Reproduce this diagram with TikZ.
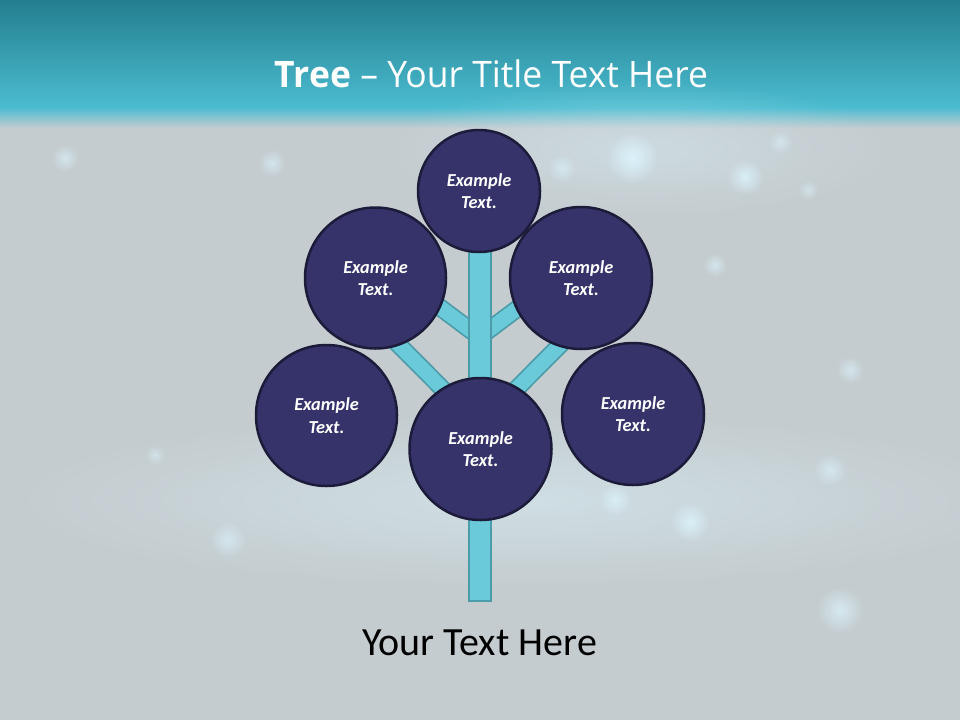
\documentclass[tikz,border=0pt]{standalone}
\usepackage{fontspec}
\usepackage{graphicx}
\usetikzlibrary{fadings}
\setmainfont{Carlito}
\newfontfamily\titlefont{Open Sans}
\definecolor{bggrey}{HTML}{C4CCCF}
\definecolor{topdark}{HTML}{237F8F}
\definecolor{toplight}{HTML}{4CBCD0}
\definecolor{circfill}{HTML}{35336A}
\definecolor{circline}{HTML}{1C1B3A}
\definecolor{trunkfill}{HTML}{6ACAD9}
\definecolor{trunkline}{HTML}{4B9CA8}
\definecolor{glow}{HTML}{DDF6FF}
\tikzfading[name=glowfade, inner color=transparent!0, outer color=transparent!100]
\tikzset{
  bubble/.style={circle, fill=circfill, draw=circline, line width=2.5pt, inner sep=0pt,
    text=white, align=center, font=\bfseries\itshape\fontsize{18.3}{22.7}\selectfont},
  branchout/.style={draw=trunkline, line width=18pt},
  branchin/.style={draw=trunkfill, line width=14.5pt},
  sparkle/.style={fill=glow, path fading=glowfade}
}
\begin{document}
\begin{tikzpicture}[x=1pt, y=-1pt]
\useasboundingbox (0,0) rectangle (960,720);
% background
\fill[bggrey] (0,0) rectangle (960,720);
\shade[top color=topdark, bottom color=toplight] (0,0) rectangle (960,108);
\shade[top color=toplight, bottom color=bggrey] (0,107.5) rectangle (960,128);
% soft glows
\fill[sparkle, fill opacity=0.45] (520,500) ellipse (520 and 90);
\fill[sparkle, fill opacity=0.35] (640,150) ellipse (260 and 70);
\foreach \px/\py/\r/\o in {632/158/26/0.9, 745/177/18/0.8, 272/163/14/0.6, 65/158/14/0.6, 715/265/12/0.6, 850/370/14/0.6, 830/470/16/0.6, 690/522/20/0.8, 840/610/24/0.7, 228/540/18/0.6, 615/500/16/0.7, 155/455/10/0.5, 780/142/12/0.5, 562/168/14/0.6, 808/190/10/0.5}
  \fill[sparkle, fill opacity=\o] (\px,\py) circle (\r);
% title
\node[text=white, anchor=base] (title) at (491.5,87)
  {\resizebox{433pt}{\height}{\titlefont\fontsize{36.5}{40}\selectfont\textbf{Tree} – Your Title Text Here}};
% tree coordinates
\coordinate (tl) at (479.5,337);
\coordinate (tr) at (479.5,337);
\coordinate (bl) at (479.5,426);
\coordinate (br) at (479.5,426);
\coordinate (eul) at (419.5,292);
\coordinate (eur) at (539.5,292);
\coordinate (ell) at (385,331);
\coordinate (elr) at (574,331);
% branches
\foreach \a/\b in {tl/eul, tr/eur, bl/ell, br/elr}{
  \draw[branchout] (\a) -- (\b);
  \draw[branchin] (\a) -- (\b);
}
% trunk
\node[draw=trunkline, fill=trunkfill, line width=2pt, minimum width=22pt, minimum height=351pt, inner sep=0pt] (trunk) at (479.5,425.5) {};
% circles
\node[bubble, minimum size=122pt] (top) at (479,191) {Example\\Text.};
\node[bubble, minimum size=141pt] (ul) at (375.5,278) {Example\\Text.};
\node[bubble, minimum size=142pt] (ur) at (581,278) {Example\\Text.};
\node[bubble, minimum size=141pt] (ll) at (326.5,415.5) {Example\\Text.};
\node[bubble, minimum size=142pt] (mid) at (480.5,449) {Example\\Text.};
\node[bubble, minimum size=142pt] (lr) at (633,414) {Example\\Text.};
% bottom text
\node[anchor=base, font=\fontsize{40}{46}\selectfont, text=black] (caption) at (479.5,655.7) {Your Text Here};
\end{tikzpicture}
\end{document}
